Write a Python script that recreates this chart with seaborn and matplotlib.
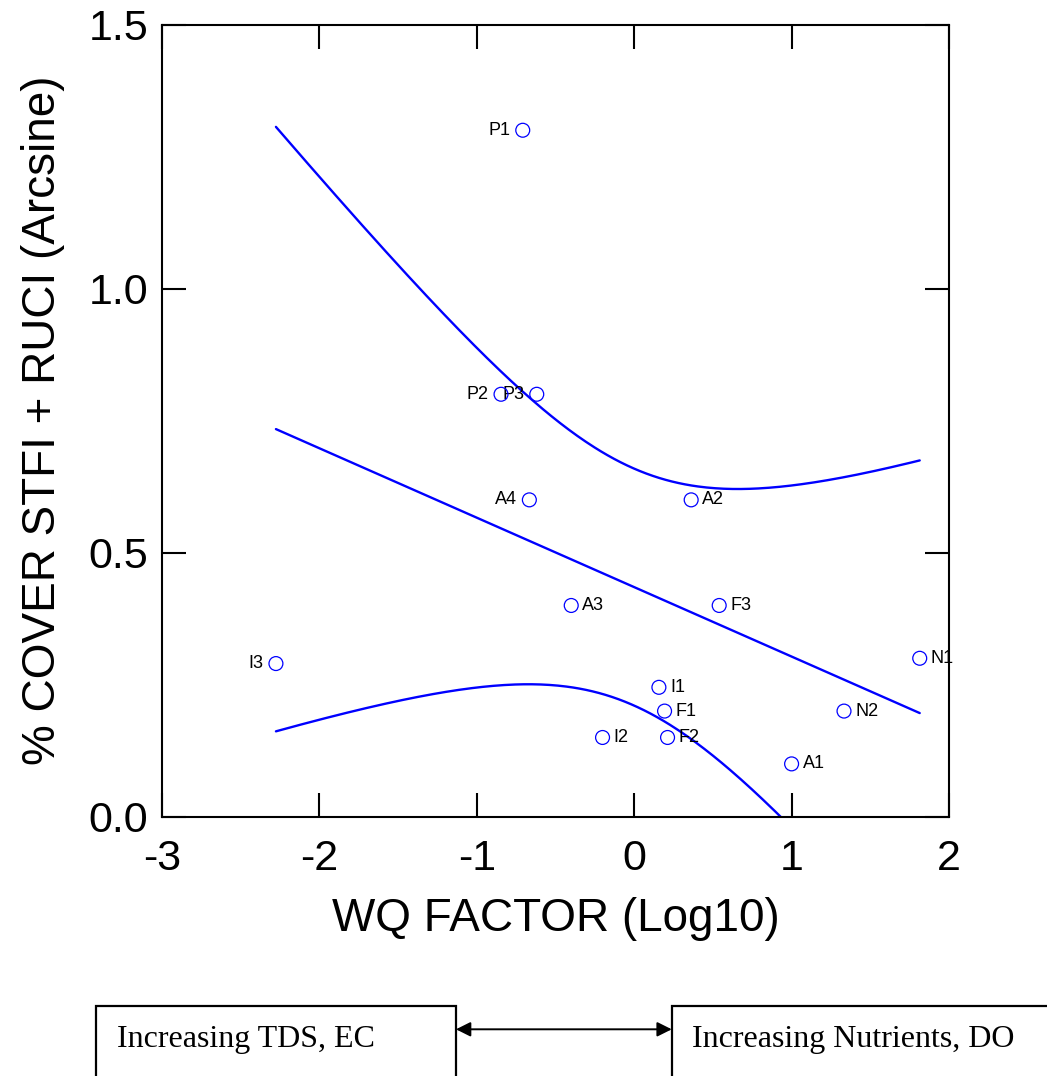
import numpy as np
import pandas as pd
import seaborn as sns
from matplotlib import pyplot as plt
from matplotlib.patches import Rectangle, FancyArrowPatch

# site codes and values
sites = ["P1", "P2", "P3", "A4", "A2", "A3", "F3", "I3", "N1", "I1", "F1", "N2", "I2", "F2", "A1"]
wq_factor = [-0.708, -0.846, -0.619, -0.666, 0.362, -0.40, 0.540, -2.276, 1.814, 0.157, 0.193, 1.333, -0.201, 0.212, 1.0]
cover = [1.30, 0.80, 0.80, 0.60, 0.60, 0.40, 0.40, 0.29, 0.30, 0.245, 0.20, 0.20, 0.15, 0.15, 0.10]

x_ticks = [-3, -2, -1, 0, 1, 2]
y_ticks = [0.0, 0.5, 1.0, 1.5]
x_label = "WQ FACTOR (Log10)"
y_label = "% COVER STFI + RUCI (Arcsine)"
left_text = "Increasing TDS, EC"
right_text = "Increasing Nutrients, DO"

# labels drawn on the left side of the marker
left_side = {"P1", "P2", "P3", "A4", "I3"}

df = pd.DataFrame({"site": sites, "wq": wq_factor, "cover": cover})

# linear fit + 95% confidence band (Working-Hotelling, F(0.95; 2, n-2))
x = df["wq"].to_numpy()
y = df["cover"].to_numpy()
n = len(x)
slope, intercept = np.polyfit(x, y, 1)
resid = y - (intercept + slope * x)
s = np.sqrt(np.sum(resid ** 2) / (n - 2))
sxx = np.sum((x - x.mean()) ** 2)
f_crit = 3.806
w_mult = np.sqrt(2 * f_crit)

grid = np.linspace(x.min(), x.max(), 300)
fit = intercept + slope * grid
half = w_mult * s * np.sqrt(1 / n + (grid - x.mean()) ** 2 / sxx)
fit_df = pd.DataFrame({"wq": grid, "fit": fit, "upper": fit + half, "lower": fit - half})

sns.set_style("ticks")
plt.rcParams["font.family"] = ["Liberation Sans", "DejaVu Sans"]
plt.rcParams["text.color"] = "black"
plt.rcParams["axes.labelcolor"] = "black"
plt.rcParams["xtick.color"] = "black"
plt.rcParams["ytick.color"] = "black"

fig = plt.figure(figsize=(10.47, 10.76), dpi=100)
ax = fig.add_axes([0.1547, 0.2410, 0.7517, 0.7361])

for col in ["fit", "upper", "lower"]:
    sns.lineplot(data=fit_df, x="wq", y=col, ax=ax, color="#0000ff", linewidth=1.7,
                 estimator=None, sort=False)

sns.scatterplot(data=df, x="wq", y="cover", ax=ax, marker="o", s=100,
                facecolor="none", edgecolor="#0000ff", linewidth=0.9, zorder=5)

for _, row in df.iterrows():
    if row["site"] in left_side:
        ax.annotate(row["site"], (row["wq"], row["cover"]), xytext=(-9, 0),
                    textcoords="offset points", ha="right", va="center", fontsize=13)
    else:
        ax.annotate(row["site"], (row["wq"], row["cover"]), xytext=(8, 0),
                    textcoords="offset points", ha="left", va="center", fontsize=13)

ax.set_xlim(-3, 2)
ax.set_ylim(0, 1.5)
ax.set_xticks(x_ticks)
ax.set_yticks(y_ticks)
ax.set_xticklabels([str(t) for t in x_ticks])
ax.set_yticklabels([f"{t:.1f}" for t in y_ticks])
ax.tick_params(direction="in", length=17, width=1.5, top=True, right=True, labelsize=31)
ax.tick_params(axis="x", pad=16)
ax.tick_params(axis="y", pad=10)
for sp in ax.spines.values():
    sp.set_visible(True)
    sp.set_linewidth(1.5)
    sp.set_color("black")
ax.set_xlabel(x_label, fontsize=33, labelpad=13)
ax.set_ylabel(y_label, fontsize=33, labelpad=17)

# boxes and arrow under the chart
fig.add_artist(Rectangle((0.0914, -0.05), 0.3441, 0.1153, transform=fig.transFigure,
                         fill=False, edgecolor="black", linewidth=1.6))
fig.add_artist(Rectangle((0.6416, -0.05), 0.40, 0.1153, transform=fig.transFigure,
                         fill=False, edgecolor="black", linewidth=1.6))
fig.add_artist(FancyArrowPatch((0.4355, 0.0434), (0.6416, 0.0434), transform=fig.transFigure,
                               arrowstyle="<|-|>", mutation_scale=22, color="black", linewidth=1.4,
                               shrinkA=0, shrinkB=0))
fig.text(0.1115, 0.027, left_text, fontsize=23, family="Liberation Serif", va="baseline")
fig.text(0.661, 0.027, right_text, fontsize=23, family="Liberation Serif", va="baseline")

fig.savefig("out.png", dpi=100)
